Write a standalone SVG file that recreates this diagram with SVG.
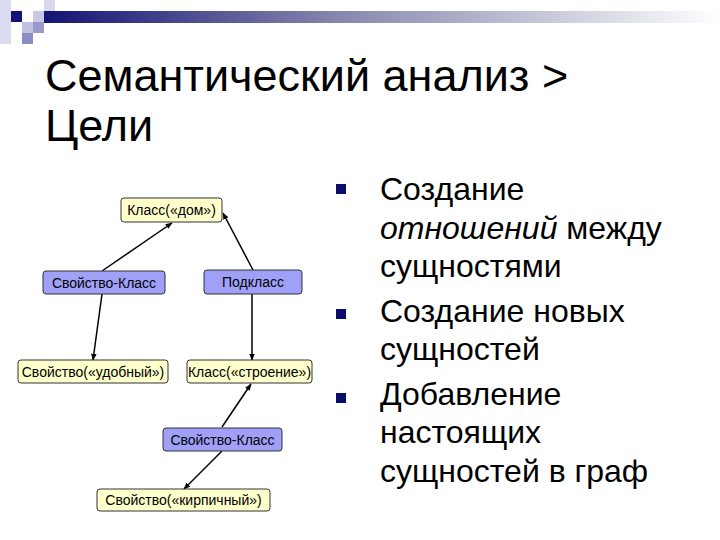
<svg xmlns="http://www.w3.org/2000/svg" width="720" height="540" viewBox="0 0 720 540">
  <defs>
    <linearGradient id="bar" x1="0" y1="0" x2="1" y2="0">
      <stop offset="0" stop-color="#141474"/>
      <stop offset="0.45" stop-color="#8a8ab0"/>
      <stop offset="1" stop-color="#ffffff"/>
    </linearGradient>
    <marker id="arr" viewBox="0 0 10 10" refX="9" refY="5" markerWidth="7" markerHeight="7" orient="auto" markerUnits="userSpaceOnUse">
      <path d="M0,1 L10,5 L0,9 z" fill="#000"/>
    </marker>
  </defs>
  <style>
    .title { font-family: "Liberation Sans", Arial, sans-serif; font-size: 45px; fill: #000; }
    .body { font-family: "Liberation Sans", Arial, sans-serif; font-size: 32px; fill: #000; }
    .lbl { font-family: "Liberation Sans", Arial, sans-serif; font-size: 14px; fill: #000; text-anchor: middle; }
    .yel { fill: #ffffcc; stroke: #333; stroke-width: 1; }
    .blu { fill: #a0a0f8; stroke: #333; stroke-width: 1; }
    .edge { stroke: #000; stroke-width: 1.5; fill: none; marker-end: url(#arr); }
    .bul { fill: #0c0c6c; }
  </style>
  <rect width="720" height="540" fill="#fff"/>
  <g id="decor">
    <rect x="0" y="0" width="11" height="44" fill="#dcdcf0"/>
    <rect x="11" y="11" width="11" height="11" fill="#141478"/>
    <rect x="33" y="11" width="11" height="11" fill="#c8c8e6"/>
    <rect x="44" y="0" width="11" height="11" fill="#d8d8ee"/>
    <rect x="22" y="22" width="11" height="11" fill="#c0c0e0"/>
    <rect x="22" y="33" width="11" height="11" fill="#8c8cc4"/>
    <rect x="33" y="22" width="11" height="11" fill="#9a9ad0"/>
    <rect x="44" y="11" width="676" height="12" fill="url(#bar)"/>
  </g>
  <g id="title">
    <text class="title" x="45" y="91">Семантический анализ &gt;</text>
    <text class="title" x="45" y="141">Цели</text>
  </g>
  <g id="bullets">
    <rect class="bul" x="336" y="184" width="10" height="10"/>
    <rect class="bul" x="336" y="309" width="10" height="10"/>
    <rect class="bul" x="336" y="393" width="10" height="10"/>
    <text class="body" x="380" y="200">Создание</text>
    <text class="body" x="380" y="239"><tspan font-style="italic">отношений</tspan> между</text>
    <text class="body" x="380" y="277">сущностями</text>
    <text class="body" x="380" y="322">Создание новых</text>
    <text class="body" x="380" y="360">сущностей</text>
    <text class="body" x="380" y="405">Добавление</text>
    <text class="body" x="380" y="443">настоящих</text>
    <text class="body" x="380" y="482">сущностей в граф</text>
  </g>
  <g id="connectors">
    <line class="edge" x1="102" y1="271" x2="172" y2="223"/>
    <line class="edge" x1="253" y1="270" x2="223" y2="213"/>
    <line class="edge" x1="102" y1="294" x2="93" y2="360"/>
    <line class="edge" x1="252" y1="294" x2="252" y2="360"/>
    <line class="edge" x1="222" y1="427" x2="251" y2="384"/>
    <line class="edge" x1="222" y1="451" x2="184" y2="489"/>
  </g>
  <g id="n-dom">
    <rect class="yel" x="121" y="198" width="101" height="24" rx="3"/>
    <text class="lbl" x="171.5" y="215">Класс(«дом»)</text>
  </g>
  <g id="n-svk1">
    <rect class="blu" x="43" y="271" width="122" height="23" rx="3"/>
    <text class="lbl" x="104" y="287.5">Свойство-Класс</text>
  </g>
  <g id="n-podklass">
    <rect class="blu" x="204" y="270" width="98" height="24" rx="3"/>
    <text class="lbl" x="253" y="287">Подкласс</text>
  </g>
  <g id="n-udobny">
    <rect class="yel" x="18" y="360" width="150" height="23" rx="3"/>
    <text class="lbl" x="93" y="376.5">Свойство(«удобный»)</text>
  </g>
  <g id="n-stroenie">
    <rect class="yel" x="187" y="360" width="125" height="23" rx="3"/>
    <text class="lbl" x="249.5" y="376.5">Класс(«строение»)</text>
  </g>
  <g id="n-svk2">
    <rect class="blu" x="163" y="428" width="119" height="23" rx="3"/>
    <text class="lbl" x="222.5" y="444.5">Свойство-Класс</text>
  </g>
  <g id="n-kirpich">
    <rect class="yel" x="97" y="489" width="173" height="22" rx="3"/>
    <text class="lbl" x="183.5" y="505">Свойство(«кирпичный»)</text>
  </g>
</svg>
